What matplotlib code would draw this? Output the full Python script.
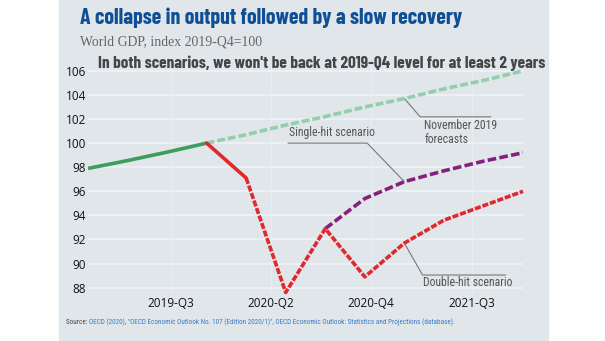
import matplotlib
matplotlib.use("Agg")
import matplotlib.pyplot as plt
from matplotlib.patches import Rectangle

# World GDP, index 2019-Q4 = 100, quarterly
quarters = ['2019-Q1', '2019-Q2', '2019-Q3', '2019-Q4',
            '2020-Q1', '2020-Q2', '2020-Q3', '2020-Q4',
            '2021-Q1', '2021-Q2', '2021-Q3', '2021-Q4']
history = [97.9, 98.55, 99.25, 100.0]                                  # 2019-Q1..Q4
nov2019 = [100.0, 100.7, 101.5, 102.2, 103.0, 103.7, 104.5, 105.2, 106.0]  # 2019-Q4..2021-Q4
double_hit = [100.0, 97.1, 87.6, 92.9, 88.9, 91.7, 93.6, 94.8, 96.0]    # 2019-Q4..2021-Q4
single_hit = [92.9, 95.4, 96.8, 97.7, 98.5, 99.2]                        # 2020-Q3..2021-Q4
xtick_labels = ['2019-Q3', '2020-Q2', '2020-Q4', '2021-Q3']
yticks = [88, 90, 92, 94, 96, 98, 100, 102, 104, 106]

heading = ['Barlow Condensed', 'Oswald', 'DejaVu Sans']
narrow = ['Roboto Condensed', 'DejaVu Sans']
green, light_green = '#3f9c5f', '#93cfaa'
red, purple = '#e0292f', '#86207d'
grey_txt = '#555555'

fig = plt.figure(figsize=(6.05, 3.41), dpi=100)
fig.patch.set_facecolor('white')
fig.patches.append(Rectangle((59 / 605, 0), (548 - 59) / 605, 1,
                             transform=fig.transFigure, color='#e1e6ea', zorder=-5))

ax = fig.add_axes([88 / 605, 1 - 292.5 / 341, 435 / 605, 226.5 / 341])
ax.set_facecolor('none')
for s in ax.spines.values():
    s.set_visible(False)

idx = list(range(len(quarters)))
i_hist = idx[:len(history)]
i_fc = idx[3:3 + len(nov2019)]
i_dh = idx[3:3 + len(double_hit)]
i_sh = idx[len(quarters) - len(single_hit):]

ax.plot(i_fc, nov2019, color=light_green, lw=2.6, dashes=(2.2, 0.8), solid_capstyle='butt', zorder=3)
ax.plot(i_hist, history, color=green, lw=2.6, solid_capstyle='butt', zorder=4)
ax.plot(i_sh, single_hit, color=purple, lw=2.6, dashes=(2.4, 0.9), zorder=4)
ax.plot(i_dh[:2], double_hit[:2], color=red, lw=2.6, solid_capstyle='round', zorder=5)
ax.plot(i_dh[1:], double_hit[1:], color=red, lw=2.6, dashes=(1.7, 0.5), zorder=5,
        clip_on=False)

ax.set_xlim(0, 11)
ax.set_ylim(87.6, 106.4)
ax.set_yticks(yticks)
ax.set_xticks([2.1, 4.63, 7.16, 9.7])
ax.set_xticklabels(xtick_labels)
ax.tick_params(length=0, labelsize=8.5, colors='#111111')
ax.tick_params(axis='y', pad=1.5)
ax.tick_params(axis='x', pad=3)
for lab in ax.get_xticklabels() + ax.get_yticklabels():
    lab.set_family(['Open Sans', 'DejaVu Sans'])
ax.grid(axis='y', color='#eef1f4', lw=1.3, zorder=1)
ax.grid(axis='x', color='#e9edf0', lw=0.8, zorder=1)

# leader lines and scenario labels
lead = dict(color='#777777', lw=0.8, zorder=2, clip_on=False)
ax.plot([i_sh[2], 7.06, 5.06], [single_hit[2], 100.0, 100.0], **lead)
ax.text(5.08, 100.35, 'Single-hit scenario', family=narrow, fontsize=8.5,
        color=grey_txt, va='bottom', ha='left')
ax.plot([i_fc[5], 8.4, 10.18], [nov2019[5], 102.18, 102.18], **lead)
ax.text(8.5, 102.0, 'November 2019\nforecasts', family=narrow, fontsize=8.5,
        color=grey_txt, va='top', ha='left', linespacing=1.1)
ax.plot([i_dh[5], 8.46, 10.56], [double_hit[5], 89.05, 89.05], **lead)
ax.text(8.48, 88.95, 'Double-hit scenario', family=narrow, fontsize=8.5,
        color=grey_txt, va='top', ha='left')

fig.text(80 / 605, 1 - 18 / 341, 'A collapse in output followed by a slow recovery',
         family=heading, weight='bold', fontsize=15.8, color='#0f4f95', va='center')
fig.text(80 / 605, 1 - 42 / 341, 'World GDP, index 2019-Q4=100',
         family=['Liberation Serif', 'DejaVu Serif'], fontsize=9.9, color='#666666',
         va='center')
fig.text(98 / 605, 1 - 63 / 341,
         "In both scenarios, we won't be back at 2019-Q4 level for at least 2 years",
         family=heading, weight='bold', fontsize=12.4, color='#454545', va='center')

src = fig.text(66 / 605, 1 - 324 / 341, 'Source: ', family=narrow, fontsize=5.1,
               color='#444444', va='baseline')
ax.annotate('OECD (2020), "OECD Economic Outlook No. 107 (Edition 2020/1)", '
            'OECD Economic Outlook: Statistics and Projections (database).',
            xy=(1, 0), xycoords=src, va='bottom', ha='left',
            family=narrow, fontsize=5.1, color='#3a7cc2', annotation_clip=False)

fig.savefig('out.png', dpi=100, facecolor=fig.get_facecolor())
